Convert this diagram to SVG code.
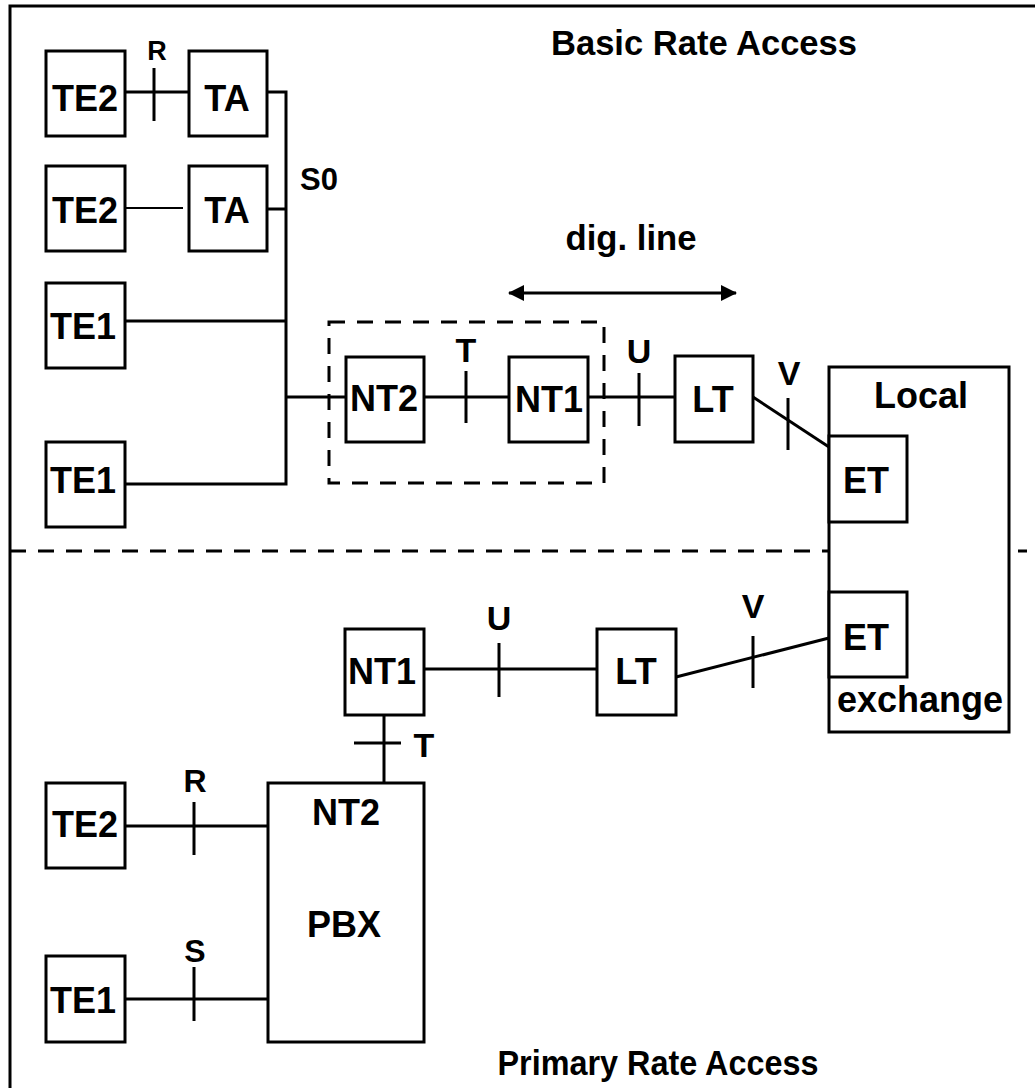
<svg xmlns="http://www.w3.org/2000/svg" width="1035" height="1088" viewBox="0 0 1035 1088">
<defs>
<style>
.box{fill:#fff;stroke:#000;stroke-width:3}
.ln{stroke:#000;stroke-width:3;fill:none}
.thin{stroke:#000;stroke-width:2;fill:none}
.dash{stroke:#000;stroke-width:3;fill:none;stroke-dasharray:16 12}
text{font-family:"Liberation Sans",Arial,sans-serif;font-weight:bold;fill:#000;text-anchor:middle}
.n{font-size:36px}
.lbl{font-size:34px}
.ttl{font-size:35px}
</style>
<marker id="ah" viewBox="0 0 16 16" refX="15" refY="8" markerWidth="16" markerHeight="16" markerUnits="userSpaceOnUse" orient="auto-start-reverse">
<path d="M0,0 L16,8 L0,16 Z" fill="#000"/>
</marker>
</defs>
<rect width="1035" height="1088" fill="#fff"/>
<g id="frame">
<path class="ln" d="M10,1088 V6 H1035"/>
<line class="dash" x1="10" y1="551" x2="1027" y2="551"/>
<rect class="dash" x="329" y="322" width="275" height="161"/>
</g>
<g id="connectors">
<line class="ln" x1="125" y1="92" x2="189" y2="92"/>
<line class="ln" x1="154" y1="68" x2="154" y2="121"/>
<path class="ln" d="M267,92 H286 V484 H125"/>
<line class="thin" x1="125" y1="208" x2="183" y2="208"/>
<line class="ln" x1="267" y1="209" x2="286" y2="209"/>
<line class="ln" x1="125" y1="321" x2="286" y2="321"/>
<line class="ln" x1="286" y1="397" x2="346" y2="397"/>
<line class="ln" x1="424" y1="397" x2="509" y2="397"/>
<line class="ln" x1="466" y1="371" x2="466" y2="423"/>
<line class="ln" x1="588" y1="397" x2="675" y2="397"/>
<line class="ln" x1="639" y1="373" x2="639" y2="426"/>
<line class="ln" x1="753" y1="397" x2="829" y2="447"/>
<line class="ln" x1="788" y1="398" x2="788" y2="450"/>
<line class="ln" x1="676" y1="677" x2="829" y2="638"/>
<line class="ln" x1="753" y1="636" x2="753" y2="688"/>
<line class="ln" x1="424" y1="669" x2="597" y2="669"/>
<line class="ln" x1="499" y1="643" x2="499" y2="697"/>
<line class="ln" x1="384" y1="715" x2="384" y2="783"/>
<line class="ln" x1="354" y1="743" x2="401" y2="743"/>
<line class="ln" x1="125" y1="826" x2="268" y2="826"/>
<line class="ln" x1="194" y1="802" x2="194" y2="855"/>
<line class="ln" x1="125" y1="999" x2="268" y2="999"/>
<line class="ln" x1="194" y1="967" x2="194" y2="1021"/>
<line class="ln" x1="509" y1="293" x2="736" y2="293" marker-start="url(#ah)" marker-end="url(#ah)"/>
</g>
<g id="labels">
<text class="ttl" x="704" y="55" textLength="306" lengthAdjust="spacingAndGlyphs">Basic Rate Access</text>
<text class="ttl" x="631" y="250" textLength="131" lengthAdjust="spacingAndGlyphs">dig. line</text>
<text class="ttl" x="658" y="1075" textLength="321" lengthAdjust="spacingAndGlyphs">Primary Rate Access</text>
<text style="font-size:27px" x="157" y="60">R</text>
<text style="font-size:31px" x="319" y="190">S0</text>
<text class="lbl" x="466" y="362">T</text>
<text class="lbl" x="639" y="363">U</text>
<text class="lbl" x="789" y="385">V</text>
<text class="lbl" x="753" y="618">V</text>
<text class="lbl" x="499" y="630">U</text>
<text class="lbl" x="424" y="757">T</text>
<text style="font-size:32px" x="195" y="792">R</text>
<text style="font-size:32px" x="195" y="962">S</text>
</g>
<g id="te2-a"><rect class="box" x="46" y="51" width="79" height="85"/><text class="n" x="85" y="111">TE2</text></g>
<g id="ta-a"><rect class="box" x="189" y="51" width="78" height="85"/><text class="n" x="227" y="111">TA</text></g>
<g id="te2-b"><rect class="box" x="46" y="166" width="79" height="85"/><text class="n" x="85" y="223">TE2</text></g>
<g id="ta-b"><rect class="box" x="189" y="166" width="78" height="85"/><text class="n" x="227" y="223">TA</text></g>
<g id="te1-a"><rect class="box" x="46" y="283" width="79" height="85"/><text class="n" x="83" y="339">TE1</text></g>
<g id="te1-b"><rect class="box" x="46" y="442" width="79" height="85"/><text class="n" x="83" y="493">TE1</text></g>
<g id="nt2-a"><rect class="box" x="346" y="357" width="78" height="85"/><text class="n" x="384" y="411">NT2</text></g>
<g id="nt1-a"><rect class="box" x="509" y="357" width="79" height="85"/><text class="n" x="549" y="412">NT1</text></g>
<g id="lt-a"><rect class="box" x="675" y="356" width="78" height="86"/><text class="n" x="713" y="412">LT</text></g>
<g id="exchange"><rect class="box" x="829" y="367" width="180" height="365"/><text class="n" x="921" y="408">Local</text><text class="n" x="920" y="712">exchange</text></g>
<g id="et-a"><rect class="box" x="829" y="436" width="78" height="86"/><text class="n" x="866" y="493">ET</text></g>
<g id="et-b"><rect class="box" x="829" y="592" width="78" height="85"/><text class="n" x="866" y="650">ET</text></g>
<g id="nt1-b"><rect class="box" x="345" y="629" width="79" height="86"/><text class="n" x="382" y="684">NT1</text></g>
<g id="lt-b"><rect class="box" x="597" y="629" width="79" height="86"/><text class="n" x="636" y="684">LT</text></g>
<g id="pbx"><rect class="box" x="268" y="783" width="156" height="259"/><text class="n" x="346" y="825">NT2</text><text class="n" x="344" y="937">PBX</text></g>
<g id="te2-c"><rect class="box" x="46" y="783" width="79" height="85"/><text class="n" x="85" y="837">TE2</text></g>
<g id="te1-c"><rect class="box" x="46" y="956" width="79" height="86"/><text class="n" x="83" y="1013">TE1</text></g>
</svg>
